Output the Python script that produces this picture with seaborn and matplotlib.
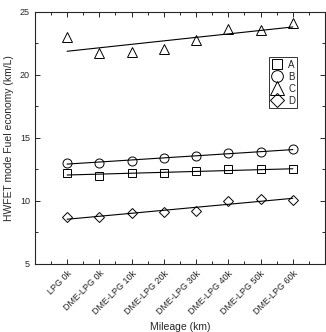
import numpy as np
import matplotlib
matplotlib.use("Agg")
import matplotlib.pyplot as plt
import seaborn as sns
from matplotlib.ticker import MultipleLocator

mileage = ["LPG 0k", "DME-LPG 0k", "DME-LPG 10k", "DME-LPG 20k",
           "DME-LPG 30k", "DME-LPG 40k", "DME-LPG 50k", "DME-LPG 60k"]
series_a = [12.2, 11.95, 12.2, 12.2, 12.4, 12.5, 12.5, 12.5]
series_b = [13.05, 13.0, 13.2, 13.4, 13.55, 13.8, 13.9, 14.1]
series_c = [23.0, 21.75, 21.85, 22.05, 22.75, 23.65, 23.55, 24.15]
series_d = [8.7, 8.7, 9.07, 9.1, 9.2, 10.0, 10.15, 10.1]

sns.set_style("ticks")
plt.rcParams['font.family'] = ['Liberation Sans', 'DejaVu Sans']

fig = plt.figure(figsize=(3.26, 3.32), dpi=100)
ax = fig.add_axes([0.107, 0.205, 0.89, 0.759])

x = np.arange(len(mileage))
for name, vals, mk, ms in [("A", series_a, "s", 6), ("B", series_b, "o", 6.5),
                           ("C", series_c, "^", 7.5), ("D", series_d, "D", 5.5)]:
    # linear fit through each series
    sns.regplot(x=x, y=np.array(vals), ax=ax, ci=None, scatter=False, truncate=True,
                line_kws=dict(color="black", lw=0.8))
    ax.plot(x, vals, ls="none", marker=mk, ms=ms, mfc="none", mec="black",
            mew=0.7, label=name)

ax.set_xlim(-1, 8)
ax.set_ylim(5, 25)
ax.set_xticks(x)
ax.set_xticklabels(mileage, rotation=45, ha="right", rotation_mode="anchor", fontsize=6.5)
ax.xaxis.set_minor_locator(MultipleLocator(0.5))
ax.yaxis.set_major_locator(MultipleLocator(5))
ax.yaxis.set_minor_locator(MultipleLocator(2.5))
ax.tick_params(which="both", direction="in", top=True, right=True, labelsize=6.5, width=0.7)
ax.tick_params(which="major", length=3.5)
ax.tick_params(which="minor", length=2)
for s in ax.spines.values():
    s.set_linewidth(0.8)
ax.set_xlabel("Mileage (km)", fontsize=7.5)
ax.set_ylabel("HWFET mode Fuel economy (km/L)", fontsize=7.5)

leg = ax.legend(loc="upper right", bbox_to_anchor=(0.905, 0.82), borderaxespad=0,
                fontsize=7, frameon=True, fancybox=False, edgecolor="black",
                markerscale=1.3, handlelength=1.2, handletextpad=0.5,
                borderpad=0.25, labelspacing=0.2)
leg.get_frame().set_linewidth(0.7)

fig.savefig("out.png", dpi=100)
